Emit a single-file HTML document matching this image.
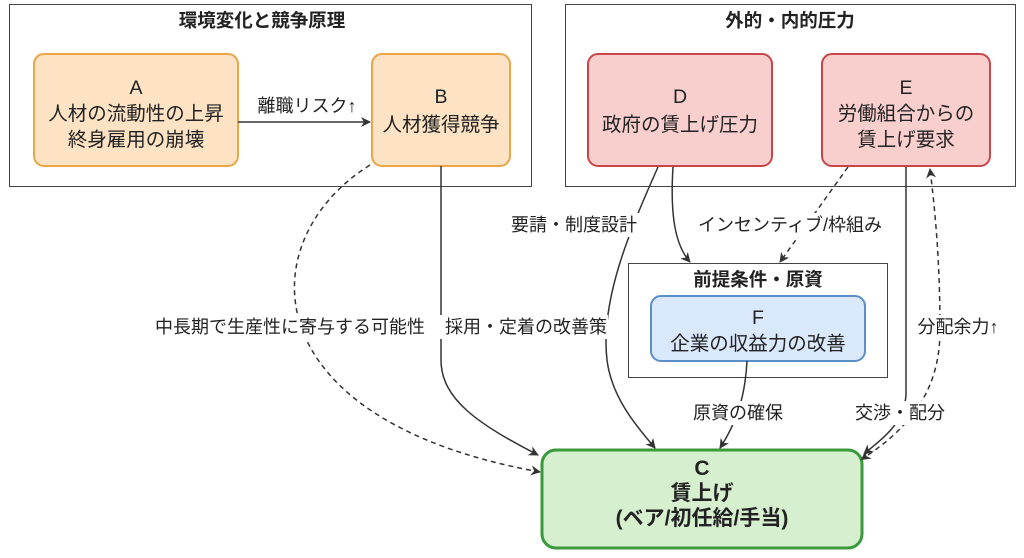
<!DOCTYPE html>
<html><head><meta charset="utf-8"><style>
html,body{margin:0;padding:0;background:#fff;}
svg{display:block;}
text{font-family:"Liberation Sans","Noto Sans CJK JP",sans-serif;fill:#222;text-anchor:middle;}
.t{font-size:19.5px;}
.b{font-weight:bold;}
.lab{font-size:18px;}
</style></head><body>
<svg width="1024" height="558" viewBox="0 0 1024 558" xmlns="http://www.w3.org/2000/svg">
<defs>
<marker id="ar" markerWidth="10" markerHeight="10" refX="9" refY="5" orient="auto" markerUnits="userSpaceOnUse">
<path d="M0,0 L10,5 L0,10 L3,5 z" fill="#333"/></marker>
<marker id="ars" markerWidth="10" markerHeight="10" refX="1" refY="5" orient="auto-start-reverse" markerUnits="userSpaceOnUse">
<path d="M0,0 L10,5 L0,10 L3,5 z" fill="#333"/></marker>
</defs>
<rect x="9.5" y="4.5" width="522" height="182" fill="#fff" stroke="#444" stroke-width="1"/>
<text x="262" y="27" class="b" style="font-size:18.5px">環境変化と競争原理</text>
<rect x="565.5" y="4.5" width="450" height="182" fill="#fff" stroke="#444" stroke-width="1"/>
<text x="790" y="27" class="b" style="font-size:18.5px">外的・内的圧力</text>
<rect x="628.5" y="263.5" width="259" height="114" fill="#fff" stroke="#444" stroke-width="1"/>
<text x="758" y="286" class="b" style="font-size:18.5px">前提条件・原資</text>

<rect x="34" y="54" width="204" height="112" rx="10" fill="#fde3c4" stroke="#eaa549" stroke-width="2"/>
<text x="136" y="94" class="t">A</text>
<text x="136" y="120" class="t">人材の流動性の上昇</text>
<text x="136" y="146" class="t">終身雇用の崩壊</text>
<rect x="372" y="54" width="138" height="112" rx="10" fill="#fde3c4" stroke="#eaa549" stroke-width="2"/>
<text x="441" y="103" class="t">B</text>
<text x="441" y="131" class="t">人材獲得競争</text>

<rect x="588" y="54" width="184" height="112" rx="10" fill="#f8cfcd" stroke="#c8464a" stroke-width="2"/>
<text x="680" y="103" class="t">D</text>
<text x="680" y="131" class="t">政府の賃上げ圧力</text>
<rect x="822" y="54" width="168" height="112" rx="10" fill="#f8cfcd" stroke="#c8464a" stroke-width="2"/>
<text x="906" y="94" class="t">E</text>
<text x="906" y="120" class="t">労働組合からの</text>
<text x="906" y="146" class="t">賃上げ要求</text>

<rect x="651" y="296" width="214" height="65" rx="10" fill="#dae8fc" stroke="#5b8fca" stroke-width="2"/>
<text x="758" y="324" class="t">F</text>
<text x="758" y="350" class="t">企業の収益力の改善</text>

<rect x="542" y="450" width="320" height="98" rx="14" fill="#d5efcf" stroke="#3a993a" stroke-width="3"/>
<text x="702" y="475" class="b" style="font-size:21px">C</text>
<text x="702" y="500" class="b" style="font-size:21px">賃上げ</text>
<text x="702" y="525" class="b" style="font-size:21px">(ベア/初任給/手当)</text>

<g fill="none" stroke="#333" stroke-width="1.5">
<path d="M238,122 L370,122" marker-end="url(#ar)"/>
<path d="M370,165 C250,240 250,420 540,472" stroke-dasharray="5,4" marker-end="url(#ar)"/>
<path d="M441,166 L441,360 C441,400 480,425 538,455" marker-end="url(#ar)"/>
<path d="M658,167 C630,230 600,300 607,360 C612,400 640,430 655,448" marker-end="url(#ar)"/>
<path d="M673,167 C670,215 675,245 690,262" marker-end="url(#ar)"/>
<path d="M848,167 L780,262" stroke-dasharray="5,4" marker-end="url(#ar)"/>
<path d="M906,167 L906,395 C904,425 880,440 864,454" marker-end="url(#ar)"/>
<path d="M868,455 C920,420 940,380 940,330 C940,260 935,210 930,169" stroke-dasharray="5,4" marker-start="url(#ars)" marker-end="url(#ar)"/>
<path d="M747,361 C745,400 735,425 720,448" marker-end="url(#ar)"/>
</g>

<rect x="248" y="95" width="118" height="22" fill="#fff"/>
<text x="307" y="112" class="lab">離職リスク↑</text>
<rect x="138" y="315" width="304" height="24" fill="#fff"/>
<text x="290" y="333" class="lab">中長期で生産性に寄与する可能性</text>
<rect x="444" y="315" width="164" height="24" fill="#fff"/>
<text x="526" y="333" class="lab">採用・定着の改善策</text>
<rect x="503" y="213" width="144" height="24" fill="#fff"/>
<text x="574" y="231" class="lab">要請・制度設計</text>
<rect x="680" y="213" width="220" height="24" fill="#fff"/>
<text x="790" y="231" class="lab">インセンティブ/枠組み</text>
<rect x="688" y="401" width="100" height="24" fill="#fff"/>
<text x="738" y="419" class="lab">原資の確保</text>
<rect x="850" y="401" width="100" height="24" fill="#fff"/>
<text x="900" y="419" class="lab">交渉・配分</text>
<rect x="910" y="315" width="96" height="24" fill="#fff"/>
<text x="958" y="333" class="lab">分配余力↑</text>
</svg>
</body></html>
